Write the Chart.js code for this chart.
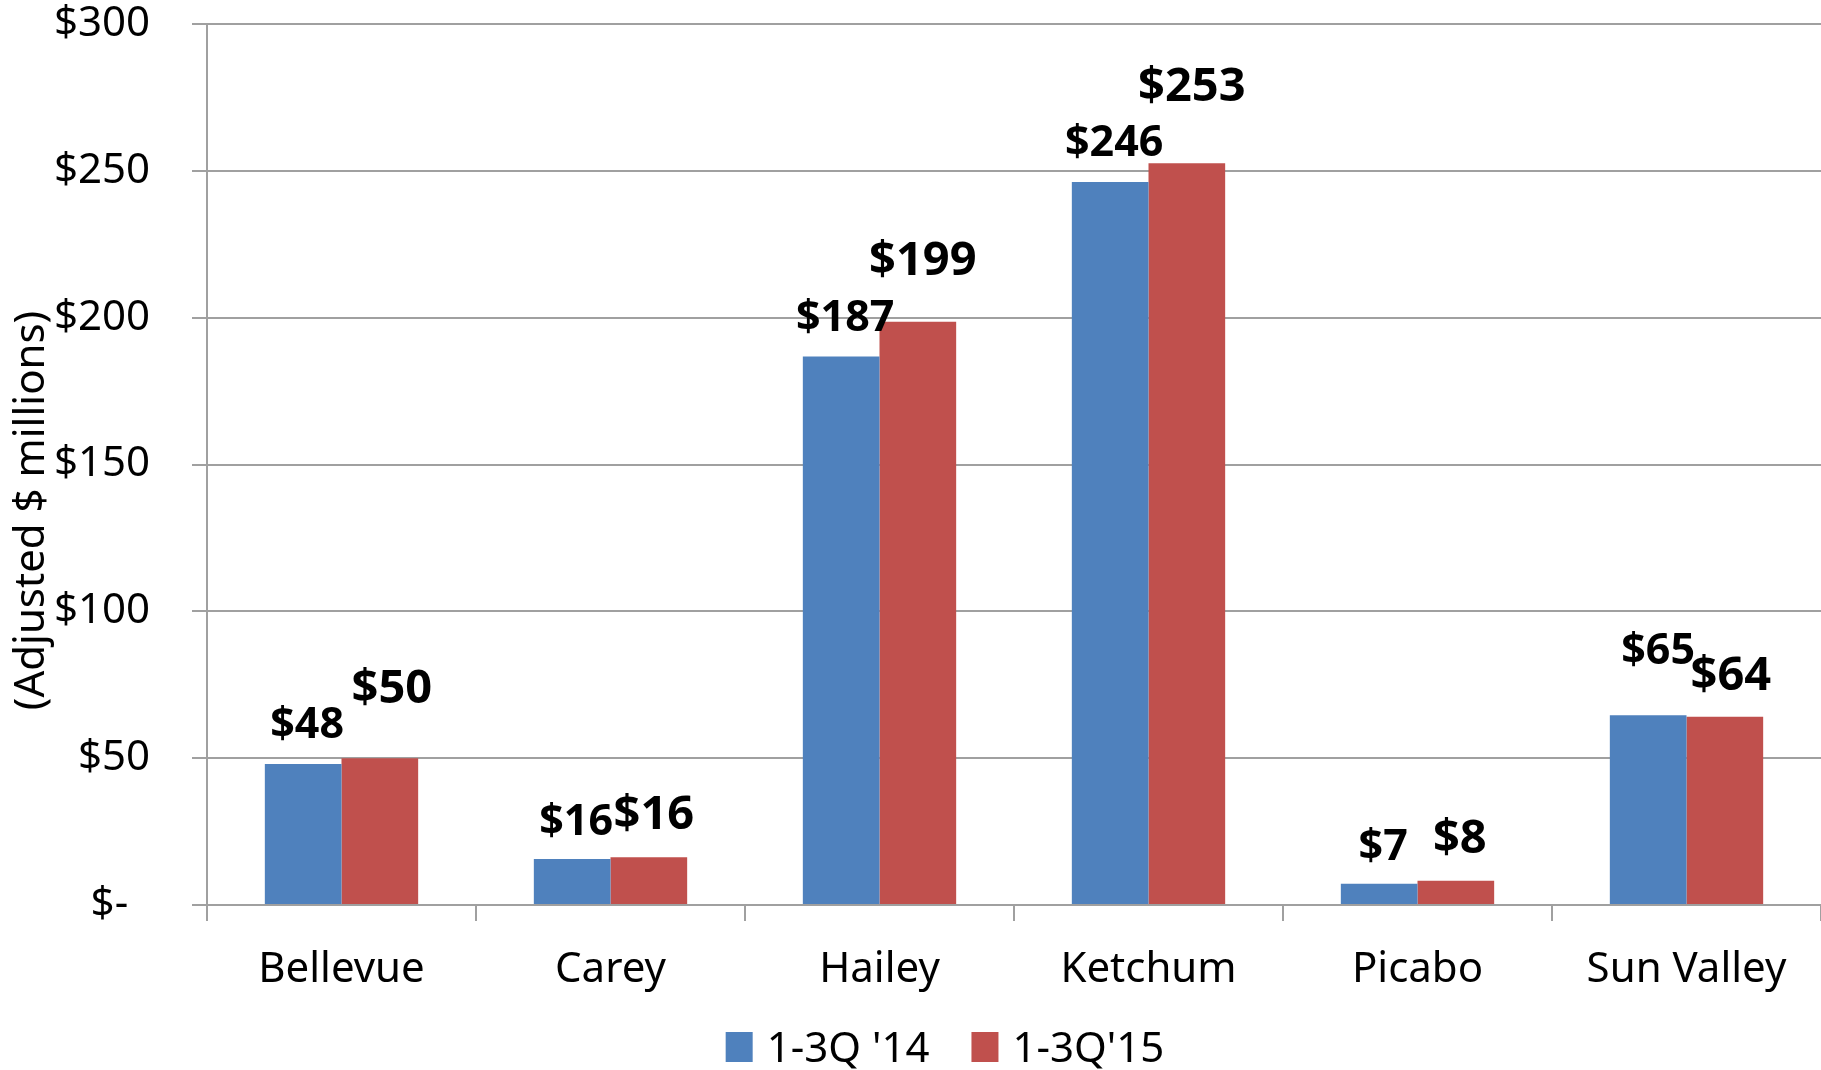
<!DOCTYPE html>
<html>
<head>
<meta charset="utf-8">
<script src="https://cdn.jsdelivr.net/npm/chart.js@4.4.0/dist/chart.umd.min.js"></script>
<style>
  html, body { margin: 0; padding: 0; background: #fff; }
  #wrap { width: 1821px; height: 1070px; }
</style>
</head>
<body>
<div id="wrap"><canvas id="c" width="1821" height="1070"></canvas></div>
<script>
const categories = ['Bellevue', 'Carey', 'Hailey', 'Ketchum', 'Picabo', 'Sun Valley'];
const series2014 = [48, 15.7, 186.8, 246.2, 7.2, 64.6];
const series2015 = [50, 16.3, 198.6, 252.6, 8.3, 64.1];
const seriesNames = ["1-3Q '14", "1-3Q'15"];
const yTicks = [0, 50, 100, 150, 200, 250, 300];
const yTitle = '(Adjusted $ millions)';

// label styling (pixel offsets above bar tops, horizontal nudges)
const labelOffsets = [[26, 24, 25, 26, 24, 51], [55, 28, 47, 62, 28, 27]];
const labelNudges = [[4, 4, 4, 4, 4, 10], [12, 5, 5, 5, 4, 6]];
const labelFonts = ['bold 43px "Noto Sans"', 'bold 47px "Noto Sans"'];

const BLUE = '#4F81BD', RED = '#C0504D', GRID = '#a0a0a0';
const FONT = '"Noto Sans", sans-serif';

const dataLabelPlugin = {
  id: 'dataLabels',
  afterDatasetsDraw(chart) {
    const ctx = chart.ctx;
    ctx.save();
    ctx.fillStyle = '#000';
    ctx.textAlign = 'center';
    ctx.textBaseline = 'alphabetic';
    chart.data.datasets.forEach((ds, di) => {
      const meta = chart.getDatasetMeta(di);
      ctx.font = labelFonts[di];
      meta.data.forEach((el, i) => {
        const txt = '$' + Math.round(ds.data[i]);
        ctx.fillText(txt, el.x + labelNudges[di][i], el.y - labelOffsets[di][i]);
      });
    });
    ctx.restore();
  }
};

const titleLegendPlugin = {
  id: 'titleLegend',
  afterDraw(chart) {
    const ctx = chart.ctx;
    const area = chart.chartArea;
    ctx.save();
    // y-axis title
    ctx.font = '42px ' + FONT;
    ctx.fillStyle = '#000';
    ctx.textAlign = 'center';
    ctx.textBaseline = 'alphabetic';
    ctx.translate(44, (area.top + area.bottom) / 2 + 46);
    ctx.rotate(-Math.PI / 2);
    ctx.fillText(yTitle, 0, 0);
    ctx.restore();

    // legend
    ctx.save();
    ctx.font = '42px ' + FONT;
    ctx.textBaseline = 'alphabetic';
    ctx.textAlign = 'left';
    const boxW = 27, boxH = 30, gap = 14, itemGap = 42;
    const widths = chart.data.datasets.map(d => ctx.measureText(d.label).width);
    let total = 0;
    widths.forEach((w, i) => { total += boxW + gap + w + (i ? itemGap : 0); });
    let x = 945 - total / 2;
    const boxTop = 1032, baseline = 1062;
    chart.data.datasets.forEach((d, i) => {
      ctx.fillStyle = d.backgroundColor;
      ctx.fillRect(x, boxTop, boxW, boxH);
      ctx.fillStyle = '#000';
      ctx.fillText(d.label, x + boxW + gap, baseline);
      x += boxW + gap + widths[i] + itemGap;
    });
    ctx.restore();
  }
};

new Chart(document.getElementById('c'), {
  type: 'bar',
  data: {
    labels: categories,
    datasets: [
      { label: seriesNames[0], data: series2014, backgroundColor: BLUE, borderWidth: 0,
        barPercentage: 1.0, categoryPercentage: 0.57 },
      { label: seriesNames[1], data: series2015, backgroundColor: RED, borderWidth: 0,
        barPercentage: 1.0, categoryPercentage: 0.57 }
    ]
  },
  options: {
    responsive: false,
    animation: false,
    devicePixelRatio: 1,
    layout: { padding: { top: 24, right: 0, bottom: 0, left: 0 } },
    plugins: {
      legend: { display: false },
      tooltip: { enabled: false }
    },
    scales: {
      x: {
        offset: true,
        grid: { offset: true, drawOnChartArea: false, drawTicks: true, tickLength: 16, color: GRID, lineWidth: 2 },
        border: { display: true, color: GRID, width: 2 },
        ticks: { color: '#000', font: { family: FONT, size: 42 }, padding: 24, maxRotation: 0, autoSkip: false },
        afterFit(scale) { scale.height = 165; scale.paddingLeft = 0; scale.paddingRight = 0; }
      },
      y: {
        min: 0, max: 300,
        afterBuildTicks(scale) { scale.ticks = yTicks.map(v => ({ value: v })); },
        grid: { drawTicks: true, tickLength: 15, color: GRID, lineWidth: 2 },
        border: { display: true, color: GRID, width: 2 },
        ticks: {
          color: '#000', font: { family: FONT, size: 42 }, padding: 42,
          callback: v => v === 0 ? '$-  ' : '$' + v
        },
        afterFit(scale) { scale.width = 207; scale.paddingTop = 0; scale.paddingBottom = 0; }
      }
    }
  },
  plugins: [dataLabelPlugin, titleLegendPlugin]
});
</script>
</body>
</html>
